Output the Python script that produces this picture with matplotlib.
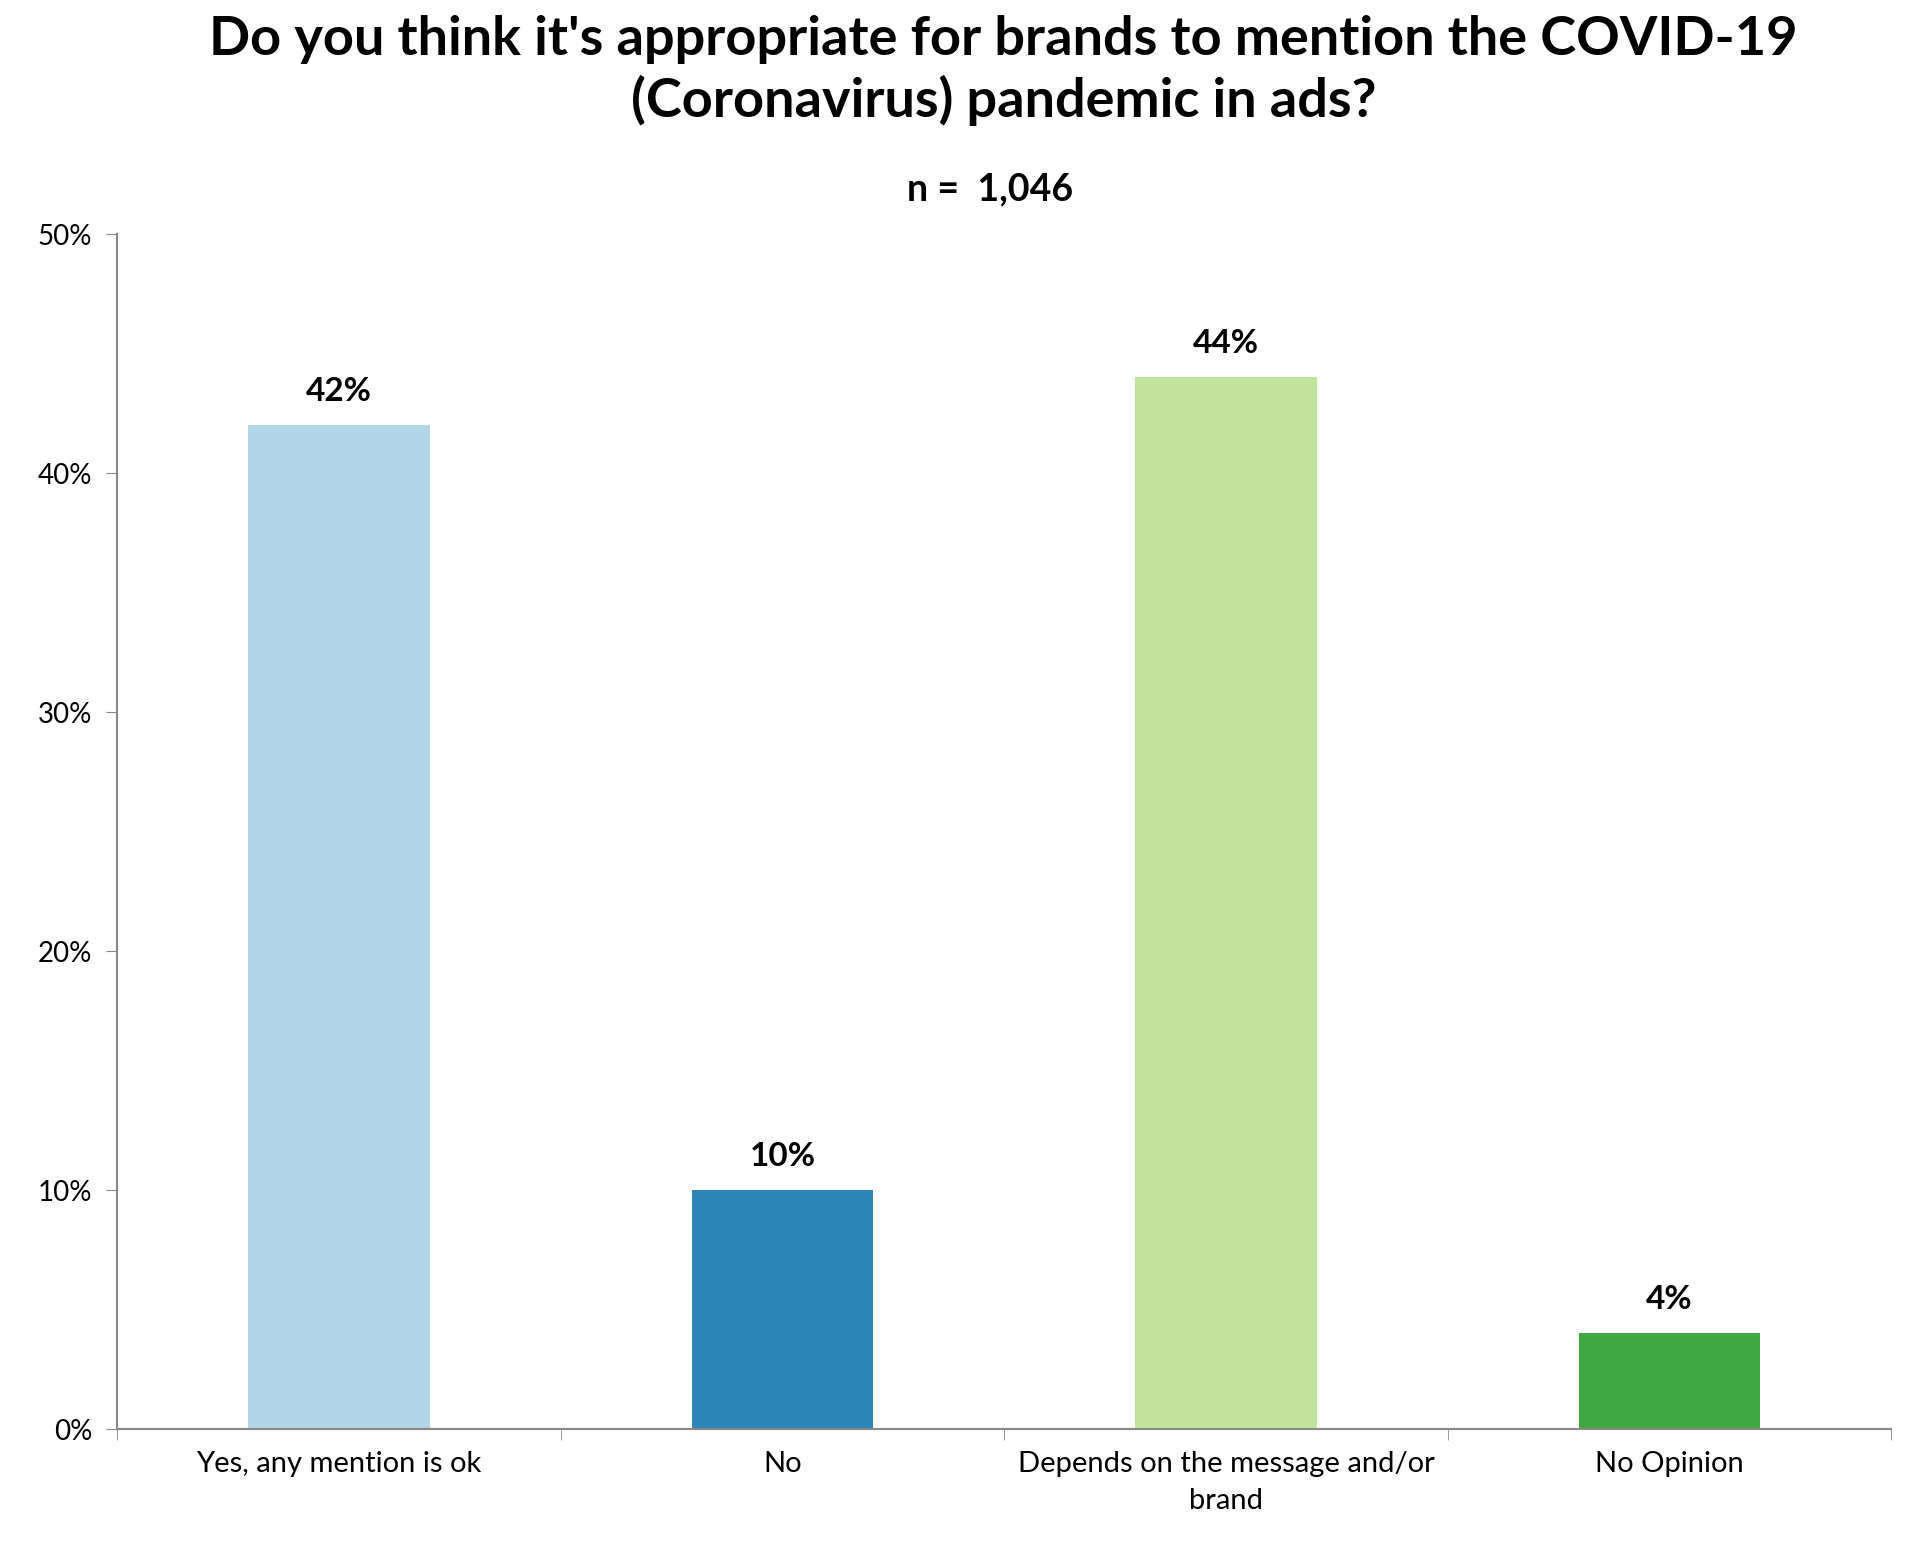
import matplotlib
matplotlib.use("Agg")
import matplotlib.pyplot as plt
from matplotlib.ticker import FixedLocator, NullFormatter

categories = ["Yes, any mention is ok", "No", "Depends on the message and/or\nbrand", "No Opinion"]
values = [42, 10, 44, 4]
colors = ["#b3d5e8", "#2b85b9", "#c0e49c", "#40a740"]
yticks = [0, 10, 20, 30, 40, 50]

plt.rcParams["font.family"] = "Lato"
fig = plt.figure(figsize=(19.22, 15.5), dpi=100)
ax = fig.add_axes([0.061, 0.078, 0.923, 0.771])
x = list(range(len(categories)))
ax.bar(x, values, width=0.41, color=colors)
for xi, v in zip(x, values):
    ax.text(xi, v + 0.8, f"{v}%", ha="center", va="bottom", fontsize=24, fontweight="bold")
ax.set_xlim(-0.5, len(categories) - 0.5)
ax.set_ylim(0, 50)
ax.set_yticks(yticks)
ax.set_yticklabels([f"{t}%" for t in yticks], fontsize=20)
ax.set_xticks(x)
ax.set_xticklabels(categories, fontsize=21, linespacing=1.5)
ax.tick_params(axis="x", length=0, pad=16)
ax.xaxis.set_minor_locator(FixedLocator([i - 0.5 for i in range(len(categories) + 1)]))
ax.xaxis.set_minor_formatter(NullFormatter())
ax.tick_params(axis="x", which="minor", length=8, color="#888888")
ax.tick_params(axis="y", length=8, color="#888888", pad=10)
for s in ["top", "right"]:
    ax.spines[s].set_visible(False)
for s in ["left", "bottom"]:
    ax.spines[s].set_color("#888888")
    ax.spines[s].set_linewidth(1.5)
fig.text(0.522, 0.99, "Do you think it's appropriate for brands to mention the COVID-19\n(Coronavirus) pandemic in ads?",
         ha="center", va="top", fontsize=39, fontweight="bold", linespacing=1.25)
fig.text(0.515, 0.878, "n =  1,046", ha="center", va="center", fontsize=27, fontweight="bold")
fig.savefig("out.png", dpi=100, facecolor="white")
